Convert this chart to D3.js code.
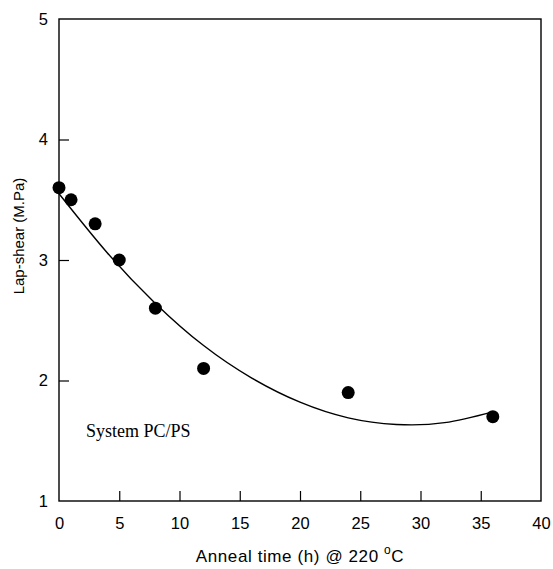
<!DOCTYPE html>
<html>
<head>
<meta charset="utf-8">
<script src="https://cdn.jsdelivr.net/npm/d3@7"></script>
<style>
  body { margin: 0; background: #fff; }
  svg text { font-family: "Liberation Sans", Arial, sans-serif; fill: #000; }
</style>
</head>
<body>
<div class="chart"></div>
<script>
// measured points
const annealTime = [0, 1, 3, 5, 8, 12, 24, 36];
const lapShear = [3.6, 3.5, 3.3, 3.0, 2.6, 2.1, 1.9, 1.7];

// fitted curve
const fitTime = [0, 4, 8, 12, 16, 20, 24, 28, 32, 36];
const fitShear = [3.55, 3.06, 2.64, 2.29, 2.02, 1.82, 1.69, 1.635, 1.65, 1.74];

const xTicks = [0, 5, 10, 15, 20, 25, 30, 35, 40];
const yTicks = [1, 2, 3, 4, 5];

const width = 553, height = 569;
const margin = {top: 19, right: 12, bottom: 68, left: 59};

const svg = d3.select('.chart').append('svg')
  .attr('width', width)
  .attr('height', height);

const x = d3.scaleLinear()
  .domain([0, 40])
  .range([margin.left, width - margin.right]);

const y = d3.scaleLinear()
  .domain([1, 5])
  .range([height - margin.bottom, margin.top]);

// axes, ticks pointing in
const xAxis = svg.append('g')
  .attr('transform', `translate(0,${height - margin.bottom})`)
  .call(d3.axisBottom(x).tickValues(xTicks).tickSizeInner(-10).tickSizeOuter(0).tickPadding(16));

const yAxis = svg.append('g')
  .attr('transform', `translate(${margin.left},0)`)
  .call(d3.axisLeft(y).tickValues(yTicks).tickFormat(d3.format('d'))
    .tickSizeInner(-10).tickSizeOuter(0).tickPadding(11));

[xAxis, yAxis].forEach(g => {
  g.select('.domain').remove();
  g.selectAll('line').attr('stroke', '#000').attr('stroke-width', 1.2);
  g.selectAll('text').attr('font-size', 16.5).attr('font-family', '"Liberation Sans", Arial, sans-serif');
});
// end ticks sit on the frame, hide them
xAxis.selectAll('.tick line').filter(d => d === 0 || d === 40).remove();
yAxis.selectAll('.tick line').filter(d => d === 1 || d === 5).remove();

// frame
svg.append('rect')
  .attr('x', x(0))
  .attr('y', y(5))
  .attr('width', x(40) - x(0))
  .attr('height', y(1) - y(5))
  .attr('fill', 'none')
  .attr('stroke', '#000')
  .attr('stroke-width', 1.4);

// fit line
const line = d3.line()
  .x((d, i) => x(fitTime[i]))
  .y(d => y(d))
  .curve(d3.curveNatural);

svg.append('path')
  .datum(fitShear)
  .attr('d', line)
  .attr('fill', 'none')
  .attr('stroke', '#000')
  .attr('stroke-width', 1.4);

// dots
svg.selectAll('circle.pt')
  .data(lapShear)
  .enter()
  .append('circle')
  .attr('class', 'pt')
  .attr('cx', (d, i) => x(annealTime[i]))
  .attr('cy', d => y(d))
  .attr('r', 6.5)
  .attr('fill', '#000');

// labels
svg.append('text')
  .attr('x', 86)
  .attr('y', 437)
  .attr('font-size', 18)
  .style('font-family', '"Liberation Serif", "Times New Roman", serif')
  .text('System PC/PS');

const xt = svg.append('text')
  .attr('x', 300)
  .attr('y', 562)
  .attr('text-anchor', 'middle')
  .attr('font-size', 17)
  .attr('letter-spacing', 0.6);
xt.append('tspan').text('Anneal time (h) @ 220 ');
xt.append('tspan').attr('font-size', 12).attr('dy', -8).text('o');
xt.append('tspan').attr('dy', 8).text('C');

svg.append('text')
  .attr('transform', `translate(24,236) rotate(-90)`)
  .attr('text-anchor', 'middle')
  .attr('font-size', 15)
  .text('Lap-shear (M.Pa)');
</script>
</body>
</html>
